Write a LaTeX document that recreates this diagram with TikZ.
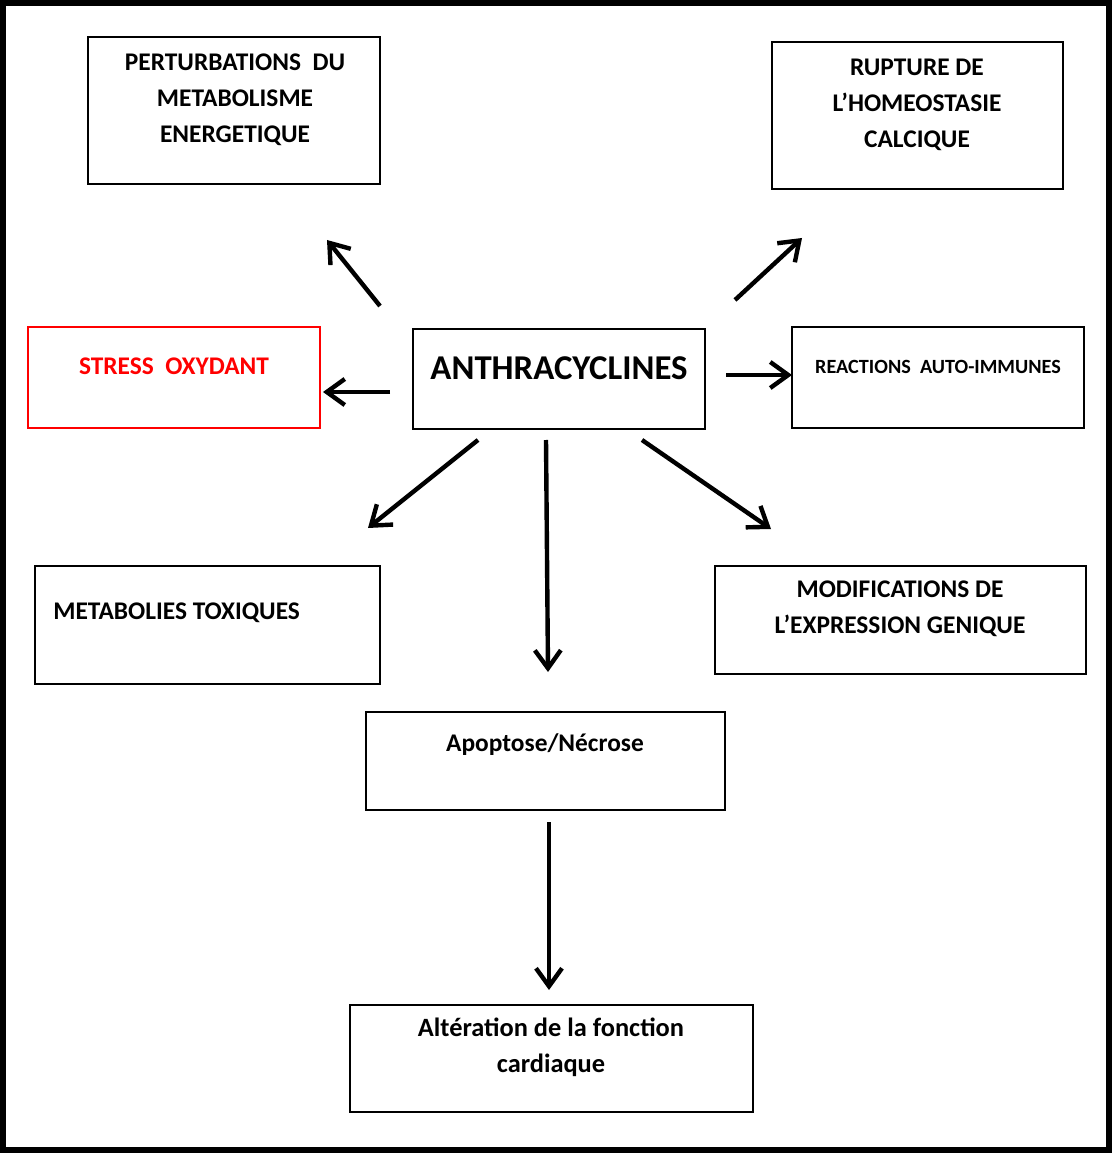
\documentclass[tikz,border=0pt]{standalone}
\usepackage{fontspec}
\setmainfont{Carlito}
\usetikzlibrary{arrows.meta}
\tikzset{
  box/.style = {draw, rectangle, line width=1.4pt, inner sep=0pt},
  txt/.style = {font=\fontsize{12.7}{18}\selectfont\bfseries, align=center, inner sep=0pt},
  arr/.style = {line width=2.2pt, -{Straight Barb[length=9pt,width=13pt,line width=2.2pt]}}
}

\begin{document}
\begin{tikzpicture}[x=0.5pt,y=-0.5pt]

\useasboundingbox (0,0) rectangle (1113,1154);
\draw[line width=2.6pt] (3,3) rectangle (1109,1150);

% boxes: name / centre / width / height (pt)
\foreach \name/\x/\y/\w/\h in {pert/234/110.5/146/73.5, rupt/917.5/115.5/145.5/73.5,
    anth/559/379/146/50, react/938/377.5/146/50.5, meta/207.5/625/172.5/59,
    modif/900.5/620/185.5/54, apop/545.5/761/179.5/49, alter/551.5/1058.5/201.5/53.5}{
  \node[box, minimum width=\w pt, minimum height=\h pt] (\name) at (\x,\y) {};
}
\node[box, draw=red, minimum width=146pt, minimum height=50.5pt] (stress) at (174,377.5) {};

% texts
\node[txt] (pert-t) at (235,100) {PERTURBATIONS\ \ DU\\METABOLISME\\ENERGETIQUE};
\node[txt] (rupt-t) at (917,104.5) {RUPTURE DE\\L'HOMEOSTASIE\\CALCIQUE};
\node[txt, text=red] (stress-t) at (174,366) {STRESS\ \ OXYDANT};
\node[txt, font=\fontsize{17.4}{18}\selectfont\bfseries] (anth-t) at (559,368) {ANTHRACYCLINES};
\node[txt, font=\fontsize{10.1}{18}\selectfont\bfseries] (react-t) at (938,367) {REACTIONS\ \ AUTO-IMMUNES};
\node[txt, anchor=west] (meta-t) at (53,613) {METABOLIES TOXIQUES};
\node[txt] (modif-t) at (900,608.5) {MODIFICATIONS DE\\L'EXPRESSION GENIQUE};
\node[txt] (apop-t) at (545,745) {Apoptose/Nécrose};
\node[txt, font=\fontsize{13.2}{18}\selectfont\bfseries] (alter-t) at (551,1047.5) {Altération de la fonction\\cardiaque};

% arrows
\foreach \i/\ax/\ay/\bx/\by in {1/380/306/327/240, 2/735/300/802/238, 3/390/392/323/392,
    4/726/375/792/375, 5/478/440/368/528, 6/546/440/548/672, 7/642/440/771/529, 8/549/822/549/990}{
  \coordinate (s\i) at (\ax,\ay);
  \coordinate (e\i) at (\bx,\by);
  \draw[arr] (s\i) -- (e\i);
}

\end{tikzpicture}
\end{document}
